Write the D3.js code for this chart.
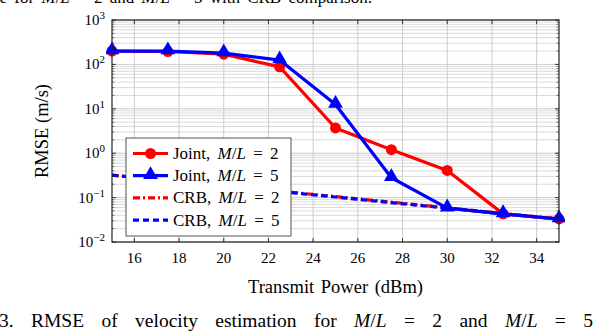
<!DOCTYPE html>
<html>
<head>
<meta charset="utf-8">
<script src="https://cdn.jsdelivr.net/npm/d3@7"></script>
<style>
body { margin: 0; background: #fff; }
svg text { font-family: "Liberation Serif", "DejaVu Serif", serif; }
</style>
</head>
<body>
<div id="chart"></div>
<script>
// data
const power = [15, 17.5, 20, 22.5, 25, 27.5, 30, 32.5, 35]
const jointML2 = [200, 195, 170, 88, 3.7, 1.2, 0.41, 0.043, 0.033]
const jointML5 = [200, 200, 180, 125, 12.5, 0.28, 0.058, 0.043, 0.033]
const crbML2 = [0.32, 0.245, 0.185, 0.14, 0.105, 0.079, 0.059, 0.044, 0.033]
const crbML5 = [0.32, 0.24, 0.18, 0.137, 0.103, 0.077, 0.058, 0.043, 0.033]
const xTicks = [16, 18, 20, 22, 24, 26, 28, 30, 32, 34]
const yExps = [-2, -1, 0, 1, 2, 3]

const W = 600, H = 332
const margin = {top: 20, right: 41, bottom: 90, left: 112}
const width = W - margin.left - margin.right
const height = H - margin.top - margin.bottom

const svg = d3.select("#chart").append("svg")
    .attr("width", W)
    .attr("height", H)

const x = d3.scaleLinear().domain([15, 35]).range([0, width])
const y = d3.scaleLog().domain([1e-2, 1e3]).range([height, 0])

const ml = (v) => '<tspan font-style="italic">M</tspan>/<tspan font-style="italic">L</tspan> = ' + v

// caption fragments (cropped from the page)
svg.append("text").attr("x", 372).attr("y", 3).attr("font-size", 17)
    .attr("text-anchor", "end").attr("word-spacing", 3)
    .html('ance for ' + ml(2) + ' and ' + ml(5) + ' with CRB comparison.')
svg.append("text").attr("x", -1).attr("y", 327).attr("font-size", 19.5)
    .attr("word-spacing", 12.5)
    .html('3.  RMSE of velocity estimation for ' + ml(2) + ' and ' + ml(5))

const g = svg.append("g")
    .attr("transform", "translate(" + margin.left + "," + margin.top + ")")

// grid
const minor = []
for (let e = -2; e < 3; e++) for (let k = 2; k <= 9; k++) minor.push(k * Math.pow(10, e))
const major = yExps.map(e => Math.pow(10, e))

g.selectAll(".hminor").data(minor).enter().append("line")
    .attr("x1", 0).attr("x2", width)
    .attr("y1", d => y(d)).attr("y2", d => y(d))
    .attr("stroke", "#dadada").attr("stroke-width", 1)
g.selectAll(".hmajor").data(major).enter().append("line")
    .attr("x1", 0).attr("x2", width)
    .attr("y1", d => y(d)).attr("y2", d => y(d))
    .attr("stroke", "#cccccc").attr("stroke-width", 1)
g.selectAll(".vgrid").data(xTicks).enter().append("line")
    .attr("x1", d => x(d)).attr("x2", d => x(d))
    .attr("y1", 0).attr("y2", height)
    .attr("stroke", "#cccccc").attr("stroke-width", 1)

// inner ticks
const tickCol = "#333"
g.selectAll(".xtb").data(xTicks).enter().append("line")
    .attr("x1", d => x(d)).attr("x2", d => x(d))
    .attr("y1", height).attr("y2", height - 4).attr("stroke", tickCol)
g.selectAll(".xtt").data(xTicks).enter().append("line")
    .attr("x1", d => x(d)).attr("x2", d => x(d))
    .attr("y1", 0).attr("y2", 4).attr("stroke", tickCol)
;[0, width].forEach(side => {
    const dir = side === 0 ? 1 : -1
    g.selectAll(null).data(major).enter().append("line")
        .attr("x1", side).attr("x2", side + dir * 4)
        .attr("y1", d => y(d)).attr("y2", d => y(d)).attr("stroke", tickCol)
    g.selectAll(null).data(minor).enter().append("line")
        .attr("x1", side).attr("x2", side + dir * 2.5)
        .attr("y1", d => y(d)).attr("y2", d => y(d)).attr("stroke", "#777")
})

// tick labels
g.selectAll(".xlab").data(xTicks).enter().append("text")
    .attr("x", d => x(d)).attr("y", height + 21)
    .attr("text-anchor", "middle").attr("font-size", 15)
    .text(d => d)
const ylab = g.selectAll(".ylab").data(yExps).enter().append("text")
    .attr("x", -7).attr("y", d => y(Math.pow(10, d)) + 5)
    .attr("text-anchor", "end").attr("font-size", 15)
ylab.append("tspan").text("10")
ylab.append("tspan").attr("dy", -6).attr("font-size", 11)
    .text(d => d < 0 ? "\u2212" + (-d) : d)

// axis titles
g.append("text").attr("x", width / 2 + 0).attr("y", height + 51)
    .attr("text-anchor", "middle").attr("font-size", 18.5)
    .attr("word-spacing", 2)
    .text("Transmit Power (dBm)")
g.append("text")
    .attr("transform", "translate(" + (-64) + "," + (height / 2) + ") rotate(-90)")
    .attr("text-anchor", "middle").attr("font-size", 18.5)
    .text("RMSE (m/s)")

// series
const series = [
    {name: "Joint", ml: 2, values: jointML2, color: "#ff0000", dash: null, marker: "circle"},
    {name: "Joint", ml: 5, values: jointML5, color: "#0000ff", dash: null, marker: "triangle"},
    {name: "CRB", ml: 2, values: crbML2, color: "#ff0000", dash: "7,3,2,3", marker: null},
    {name: "CRB", ml: 5, values: crbML5, color: "#0000ff", dash: "6,4", marker: null}
]

svg.append("clipPath").attr("id", "plotclip")
    .append("rect").attr("x", -6).attr("y", -6).attr("width", width + 12).attr("height", height + 6)

const line = d3.line().x(d => x(d[0])).y(d => y(d[1]))
const plot = g.append("g").attr("clip-path", "url(#plotclip)")

const triangle = d3.symbol().type(d3.symbolTriangle).size(95)

// CRB first, then the joint curves on top
;[2, 3, 0, 1].forEach(i => {
    const s = series[i]
    const pts = power.map((p, j) => [p, s.values[j]])
    plot.append("path").datum(pts)
        .attr("d", line)
        .attr("fill", "none")
        .attr("stroke", s.color)
        .attr("stroke-width", 3.2)
        .attr("stroke-linejoin", "round")
        .attr("stroke-dasharray", s.dash)
    if (s.marker === "circle") {
        plot.selectAll(null).data(pts).enter().append("circle")
            .attr("cx", d => x(d[0])).attr("cy", d => y(d[1]))
            .attr("r", 5.5).attr("fill", s.color)
    } else if (s.marker === "triangle") {
        plot.selectAll(null).data(pts).enter().append("path")
            .attr("d", triangle)
            .attr("transform", d => "translate(" + x(d[0]) + "," + (y(d[1]) - 1) + ")")
            .attr("fill", s.color)
    }
})

// frame
g.append("rect").attr("width", width).attr("height", height)
    .attr("fill", "none").attr("stroke", "#222").attr("stroke-width", 1.2)

// legend
const lg = g.append("g").attr("transform", "translate(14,118)")
lg.append("rect").attr("width", 165).attr("height", 98)
    .attr("fill", "#fff").attr("stroke", "#555").attr("stroke-width", 1)
series.forEach((s, i) => {
    const ry = 15.5 + i * 22.2
    lg.append("line").attr("x1", 7).attr("x2", 42).attr("y1", ry).attr("y2", ry)
        .attr("stroke", s.color).attr("stroke-width", 3.2)
        .attr("stroke-dasharray", s.dash)
    if (s.marker === "circle") {
        lg.append("circle").attr("cx", 24.5).attr("cy", ry).attr("r", 5.5).attr("fill", s.color)
    } else if (s.marker === "triangle") {
        lg.append("path").attr("d", triangle)
            .attr("transform", "translate(24.5," + (ry - 1) + ")").attr("fill", s.color)
    }
    lg.append("text").attr("x", 47).attr("y", ry + 5.5).attr("font-size", 17)
        .attr("word-spacing", 3)
        .html(s.name + ', ' + ml(s.ml))
})
</script>
</body>
</html>
